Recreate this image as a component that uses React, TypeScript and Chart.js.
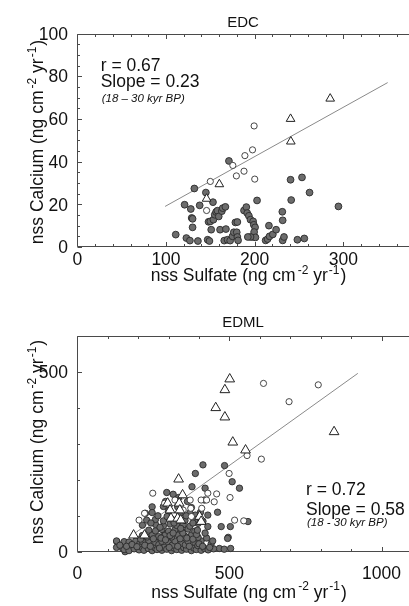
import React, { useEffect, useRef } from 'react';
import { Chart, registerables } from 'chart.js';

Chart.register(...registerables);

type P = [number, number];

// ---------------- EDC data ----------------
const edcGrey: P[] = [
  [111, 5.8], [121, 19.8], [123, 4.2], [127, 3], [128, 17.8], [129, 13.6], [130, 13.2], [130, 9.2],
  [132, 27.4], [136, 2.8], [138, 19.5], [145, 25.5], [147, 3.4], [149, 2.8], [148, 11.8], [150, 12],
  [151, 8.1], [153, 21], [153.5, 12.8], [155, 15.1], [156.5, 16.4], [158, 17], [159.5, 14.3], [161, 8.1],
  [163, 16.8], [164, 18.2], [167, 18.8], [167.6, 8.4], [165.7, 3], [169.4, 3.4], [171, 40.3], [172.4, 3],
  [175, 5], [176.5, 6.9], [178.3, 11.5], [180.5, 11.7], [179.8, 6.9], [180.5, 4.7], [181.3, 3.1], [188, 17.1],
  [190.6, 18.7], [191.6, 15.9], [193.5, 14.6], [195.3, 12.8], [197.6, 4.7], [198.3, 12], [199, 10.4], [200.5, 9.2],
  [199.4, 7], [200.9, 4.5], [195.3, 4.7], [192.3, 4.7], [202.7, 21.8], [212.4, 3.1], [214.6, 3.7], [216.1, 10],
  [216.8, 5], [220.5, 5.9], [224.2, 8.1], [231.2, 16.5], [231.6, 12.5], [231.6, 3.1], [233.1, 4.7], [240.5, 31.5],
  [241.2, 22], [253.4, 32.6], [261.9, 25.5], [248.2, 3.4], [256, 4], [294.5, 19],
];
const edcOpen: P[] = [
  [150, 30.7], [175.4, 38.2], [179.4, 33.3], [188, 35.5], [189, 42.8], [197.6, 45.5], [199.4, 56.7],
  [200.1, 31.8], [145.8, 17.1],
];
const edcTriangles: P[] = [
  [145.8, 22.6], [160.2, 29.4], [240.5, 60], [240.8, 49.4], [285.2, 69.5],
];
const edcFit: P[] = [[99, 19], [350, 77]];
const edcXTicks = [0, 100, 200, 300, 400];
const edcYTicks = [0, 20, 40, 60, 80, 100];
const edcStats = ['r = 0.67', 'Slope = 0.23', '(18 – 30 kyr BP)'];

// ---------------- EDML data ----------------
const edmlGrey: P[] = [
  [413, 242], [484, 240], [388, 218], [509, 195], [533, 177], [420, 177], [294, 165], [333, 151],
  [461, 110], [503, 70], [473, 70], [496, 40], [561, 84], [429, 70], [397, 79], [388, 102], [418, 144],
  [377, 181], [246, 125], [286, 51], [130, 28], [149, 9], [154, 28], [175, 14], [157, 0],
  [467, 9], [483, 7], [504, 9], [494, 37], [429, 102],
  [129, 12], [154, 6], [170, 3], [187, 8], [203, 5], [212, 12], [219, 4], [233, 9], [246, 3], [255, 11],
  [262, 6], [278, 4], [285, 12], [294, 7], [310, 3], [318, 10], [327, 6], [343, 4], [350, 11], [359, 7],
  [375, 3], [383, 10], [391, 6], [407, 4], [418, 9], [430, 5], [448, 8],
  [129, 30], [170, 27], [192, 30], [205, 22], [214, 28], [235, 31], [257, 26], [268, 20], [278, 29],
  [300, 25], [312, 18], [321, 30], [343, 24], [355, 19], [364, 29], [386, 26], [396, 17], [407, 30], [440, 22],
  [214, 45], [230, 41], [246, 47], [267, 42], [289, 46], [310, 41], [332, 47], [354, 43], [375, 46], [397, 40], [425, 38],
  [235, 60], [257, 58], [278, 62], [300, 57], [321, 61], [343, 58], [364, 63], [386, 57],
  [214, 74], [257, 76], [283, 72], [305, 77], [327, 73], [348, 75], [370, 71],
  [257, 90], [283, 86], [310, 91], [354, 87], [386, 89], [413, 85],
  [224, 107], [246, 109], [337, 105], [370, 108], [283, 126], [375, 123],
  [140, 18], [162, 15], [180, 20], [196, 14], [208, 35], [222, 18], [240, 15], [250, 36], [270, 10],
  [275, 38], [290, 33], [302, 12], [305, 45], [315, 52], [330, 15], [338, 36], [347, 52], [360, 38],
  [368, 15], [380, 35], [392, 48], [400, 22], [412, 15], [420, 52], [435, 12], [445, 30],
  [228, 88], [242, 80], [265, 100], [272, 68], [295, 98], [300, 115], [318, 80], [330, 125], [340, 65],
  [358, 100], [362, 140], [380, 80], [395, 60], [405, 110], [290, 140], [315, 160],
];
const edmlOpen: P[] = [
  [612, 469], [792, 465], [696, 418], [558, 268], [605, 258], [248, 163], [499, 218], [429, 163],
  [458, 161], [450, 139], [502, 151], [517, 88], [547, 86], [409, 121], [373, 121], [321, 144],
  [287, 135], [375, 98], [348, 116], [221, 107], [203, 88], [407, 144], [371, 144], [425, 144],
];
const edmlTriangles: P[] = [
  [501, 481], [485, 451], [455, 401], [485, 375], [511, 305], [553, 283], [844, 334], [333, 202],
  [346, 158], [297, 135], [305, 116], [335, 135], [337, 116], [308, 93], [330, 93], [402, 98],
  [407, 84], [185, 46], [221, 46], [340, 88],
];
const edmlFit: P[] = [[180, 46], [922, 497]];
const edmlXTicks = [0, 500, 1000];
const edmlYTicks = [0, 500];
const edmlStats = ['r = 0.72', 'Slope = 0.58', '(18 - 30 kyr BP)'];

const FONT = '"Liberation Sans", Arial, Helvetica, sans-serif';
const TEXT = '#111';
const AXIS = '#4a4a4a';

type Part = [string, boolean, number?];
const xTitleParts: Part[] = [['nss Sulfate (ng cm', false], ['-2', true, 2], [' yr', false], ['-1', true, 1], [')', false, 1]];
const yTitleParts: Part[] = [['nss Calcium (ng cm', false], ['-2', true, 2], [' yr', false], ['-1', true, 1], [')', false, 1]];

interface PanelCfg {
  title: string;
  w: number; h: number; pageTop: number;
  left: number; top: number; bottom: number;
  xMax: number; yMax: number;
  xMinor: number; xMajor: number; yMinor: number; yMajor: number;
  xTicks: number[]; yTicks: number[];
  grey: P[]; open: P[]; tri: P[]; fit: P[];
  greyR: number; openR: number; triR: number;
  titleY: number; xTitleX: number; xTitleY: number; xLabelY: number;
  yTitleX: number; yTitleY: number;
  stats: string[]; statX: number; statY: number[];
}

function drawRich(ctx: CanvasRenderingContext2D, parts: Part[], x: number, y: number, size: number) {
  const main = `${size}px ${FONT}`;
  const sup = `${Math.round(size * 0.66)}px ${FONT}`;
  const ws = parts.map(([t, s]) => { ctx.font = s ? sup : main; return ctx.measureText(t).width; });
  const total = parts.reduce((a, p, i) => a + ws[i] + (p[2] || 0), 0);
  let cx = x - total / 2;
  parts.forEach(([t, s, gap], i) => {
    cx += gap || 0;
    ctx.font = s ? sup : main;
    ctx.fillText(t, cx, s ? y - size * 0.42 : y);
    cx += ws[i];
  });
}

function makePlugin(cfg: PanelCfg) {
  return {
    id: 'deco',
    beforeDatasetsDraw(chart: any) {
      const { ctx, chartArea } = chart;
      const xs = chart.scales.x;
      const ys = chart.scales.y;
      const L = Math.round(chartArea.left) + 0.5;
      const T = Math.round(chartArea.top) + 0.5;
      const B = Math.round(chartArea.bottom) - 0.5;
      const R = chartArea.right;
      ctx.save();
      ctx.strokeStyle = AXIS;
      ctx.lineWidth = 1;
      ctx.beginPath();
      ctx.moveTo(R, T); ctx.lineTo(L, T); ctx.lineTo(L, B); ctx.lineTo(R, B);
      ctx.stroke();
      ctx.beginPath();
      for (let v = 0; v <= cfg.xMax + 1e-6; v += cfg.xMinor) {
        const len = Math.abs(v / cfg.xMajor - Math.round(v / cfg.xMajor)) < 1e-6 ? 4.5 : 2.5;
        const px = Math.round(xs.getPixelForValue(v)) + 0.5;
        ctx.moveTo(px, B); ctx.lineTo(px, B - len);
        ctx.moveTo(px, T); ctx.lineTo(px, T + len);
      }
      for (let v = 0; v <= cfg.yMax + 1e-6; v += cfg.yMinor) {
        const len = Math.abs(v / cfg.yMajor - Math.round(v / cfg.yMajor)) < 1e-6 ? 4.5 : 2.5;
        const py = Math.round(ys.getPixelForValue(v)) + 0.5;
        ctx.moveTo(L, py); ctx.lineTo(L + len, py);
      }
      ctx.stroke();
      ctx.restore();
    },
    afterDraw(chart: any) {
      const { ctx } = chart;
      const xs = chart.scales.x;
      const ys = chart.scales.y;
      ctx.save();
      ctx.fillStyle = TEXT;
      ctx.textBaseline = 'alphabetic';
      ctx.font = `17.5px ${FONT}`;
      ctx.textAlign = 'center';
      cfg.xTicks.forEach((v) => ctx.fillText(String(v), xs.getPixelForValue(v), cfg.xLabelY));
      ctx.textAlign = 'right';
      cfg.yTicks.forEach((v) => ctx.fillText(String(v), cfg.left - 9.3, ys.getPixelForValue(v) + 6.2));
      ctx.textAlign = 'center';
      ctx.font = `15px ${FONT}`;
      ctx.fillText(cfg.title, 243, cfg.titleY);
      ctx.textAlign = 'left';
      drawRich(ctx, xTitleParts, cfg.xTitleX, cfg.xTitleY, 17.5);
      ctx.save();
      ctx.translate(cfg.yTitleX, cfg.yTitleY);
      ctx.rotate(-Math.PI / 2);
      drawRich(ctx, yTitleParts, 0, 0, 17.5);
      ctx.restore();
      ctx.textAlign = 'left';
      ctx.font = `17.5px ${FONT}`;
      ctx.fillText(cfg.stats[0], cfg.statX, cfg.statY[0]);
      ctx.fillText(cfg.stats[1], cfg.statX, cfg.statY[1]);
      ctx.font = `italic 11.5px ${FONT}`;
      ctx.fillText(cfg.stats[2], cfg.statX + 1, cfg.statY[2]);
      ctx.restore();
    },
  };
}

const toXY = (a: P[]) => a.map(([x, y]) => ({ x, y }));

function Panel({ cfg }: { cfg: PanelCfg }) {
  const ref = useRef<HTMLCanvasElement>(null);
  useEffect(() => {
    const canvas = ref.current!;
    const chart = new Chart(canvas, {
      type: 'scatter',
      data: {
        datasets: [
          {
            data: toXY(cfg.fit), showLine: true, borderColor: '#8a8a8a', borderWidth: 1,
            pointRadius: 0, order: 4, clip: false,
          } as any,
          {
            data: toXY(cfg.grey), pointStyle: 'circle', pointRadius: cfg.greyR, pointBackgroundColor: '#6c6c6c',
            pointBorderColor: '#2a2a2a', pointBorderWidth: 0.9, order: 3, clip: false,
          } as any,
          {
            data: toXY(cfg.open), pointStyle: 'circle', pointRadius: cfg.openR, pointBackgroundColor: '#ffffff',
            pointBorderColor: '#333333', pointBorderWidth: 0.9, order: 2, clip: false,
          } as any,
          {
            data: toXY(cfg.tri), pointStyle: 'triangle', pointRadius: cfg.triR, pointBackgroundColor: '#ffffff',
            pointBorderColor: '#222222', pointBorderWidth: 1, order: 1, clip: false,
          } as any,
        ],
      },
      options: {
        animation: false,
        responsive: false,
        devicePixelRatio: 1,
        layout: { padding: { top: cfg.top, left: 0, right: 0, bottom: 0 } },
        plugins: { legend: { display: false }, tooltip: { enabled: false }, title: { display: false } },
        scales: {
          x: {
            type: 'linear', min: 0, max: cfg.xMax,
            ticks: { display: false }, grid: { display: false, drawTicks: false }, border: { display: false },
            afterFit: (s: any) => { s.height = cfg.h - cfg.bottom; s.paddingLeft = 0; s.paddingRight = 0; },
          },
          y: {
            type: 'linear', min: 0, max: cfg.yMax,
            ticks: { display: false }, grid: { display: false, drawTicks: false }, border: { display: false },
            afterFit: (s: any) => { s.width = cfg.left; s.paddingTop = 0; s.paddingBottom = 0; },
          },
        },
      } as any,
      plugins: [makePlugin(cfg)],
    });
    return () => chart.destroy();
  }, [cfg]);
  return (
    <div style={{ position: 'absolute', left: 0, top: cfg.pageTop, width: cfg.w, height: cfg.h }}>
      <canvas ref={ref} width={cfg.w} height={cfg.h} style={{ width: cfg.w, height: cfg.h, display: 'block' }} />
    </div>
  );
}

const edcCfg: PanelCfg = {
  title: 'EDC', w: 438, h: 300, pageTop: 0,
  left: 77.3, top: 33.5, bottom: 247,
  xMax: 400, yMax: 100, xMinor: 20, xMajor: 100, yMinor: 5, yMajor: 20,
  xTicks: edcXTicks, yTicks: edcYTicks,
  grey: edcGrey, open: edcOpen, tri: edcTriangles, fit: edcFit,
  greyR: 3.4, openR: 3.1, triR: 5,
  titleY: 27, xTitleX: 248.5, xTitleY: 281, xLabelY: 265,
  yTitleX: 43, yTitleY: 142,
  stats: edcStats, statX: 100.7, statY: [70.7, 86.5, 101.6],
};

const edmlCfg: PanelCfg = {
  title: 'EDML', w: 449, h: 306, pageTop: 300,
  left: 77.3, top: 36.4, bottom: 251.7,
  xMax: 1200, yMax: 600, xMinor: 100, xMajor: 500, yMinor: 100, yMajor: 500,
  xTicks: edmlXTicks, yTicks: edmlYTicks,
  grey: edmlGrey, open: edmlOpen, tri: edmlTriangles, fit: edmlFit,
  greyR: 3.2, openR: 3.1, triR: 5.6,
  titleY: 27.3, xTitleX: 249, xTitleY: 297.7, xLabelY: 279.3,
  yTitleX: 43, yTitleY: 142,
  stats: edmlStats, statX: 306, statY: [195, 214.5, 226],
};

export default function App() {
  return (
    <div style={{ position: 'absolute', left: 0, top: 0, width: 409, height: 606, overflow: 'hidden', background: '#ffffff' }}>
      <Panel cfg={edcCfg} />
      <Panel cfg={edmlCfg} />
    </div>
  );
}
